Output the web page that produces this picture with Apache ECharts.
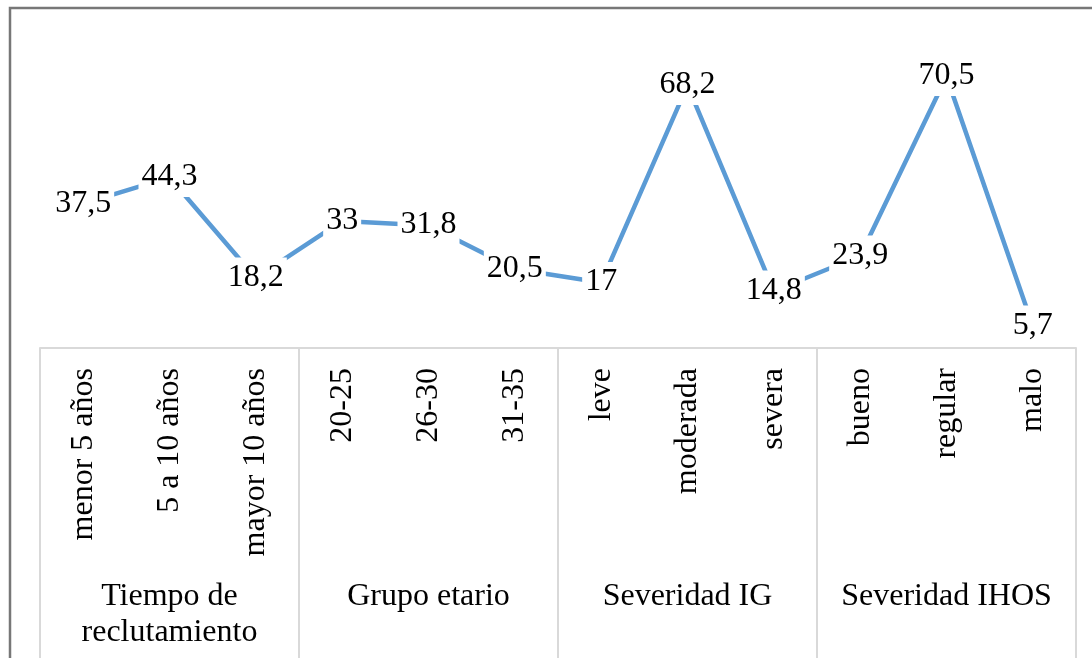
<!DOCTYPE html>
<html>
<head>
<meta charset="utf-8">
<script src="https://cdn.jsdelivr.net/npm/echarts@6/dist/echarts.min.js"></script>
<style>
html,body{margin:0;padding:0;background:#fff;}
#chart{width:1092px;height:658px;}
</style>
</head>
<body>
<div id="chart"></div>
<script>
const categories = ['menor 5 años','5 a 10 años','mayor 10 años','20-25','26-30','31-35','leve','moderada','severa','bueno','regular','malo'];
const values = [37.5, 44.3, 18.2, 33, 31.8, 20.5, 17, 68.2, 14.8, 23.9, 70.5, 5.7];
const groups = ['Tiempo de\nreclutamiento','Grupo etario','Severidad IG','Severidad IHOS'];

const FONT = '"Liberation Serif", "Times New Roman", serif';
const FS = 32;
const chart = echarts.init(document.getElementById('chart'));
chart.setOption({
  animation: false,
  backgroundColor: '#fff',
  grid: {left: 40, right: 16, top: 40, bottom: 310},
  xAxis: [{
    type: 'category',
    data: categories,
    boundaryGap: true,
    axisLine: {show: false},
    axisTick: {show: false},
    axisLabel: {
      interval: 0, rotate: 90, margin: 20,
      fontFamily: FONT, fontSize: FS, color: '#000'
    }
  }, {
    type: 'category',
    data: groups,
    position: 'bottom',
    boundaryGap: true,
    axisLine: {show: true, lineStyle: {color: '#d9d9d9', width: 2}},
    axisTick: {show: true, inside: false, length: 320, interval: 0, lineStyle: {color: '#d9d9d9', width: 2}},
    axisLabel: {
      interval: 0, margin: 231,
      fontFamily: FONT, fontSize: FS, color: '#000', lineHeight: 36, align: 'center'
    }
  }],
  yAxis: {type: 'value', min: 0, max: 80, show: false, splitLine: {show: false}},
  series: [{
    type: 'line',
    xAxisIndex: 0,
    data: values,
    symbol: 'circle',
    symbolSize: 1,
    showSymbol: true,
    itemStyle: {color: 'rgba(0,0,0,0)'},
    lineStyle: {color: '#5b9bd5', width: 4.5},
    z: 3,
    label: {
      show: true, position: 'top', distance: 0, verticalAlign: 'middle', align: 'center',
      fontFamily: FONT, fontSize: FS, color: '#000',
      backgroundColor: '#fff', padding: [4, 3],
      formatter: p => String(p.value).replace('.', ',')
    }
  }],
  graphic: [{
    type: 'rect', z: 100,
    shape: {x: 10, y: 8, width: 1110, height: 700},
    style: {fill: 'none', stroke: '#777', lineWidth: 2.5}
  }]
});
</script>
</body>
</html>
